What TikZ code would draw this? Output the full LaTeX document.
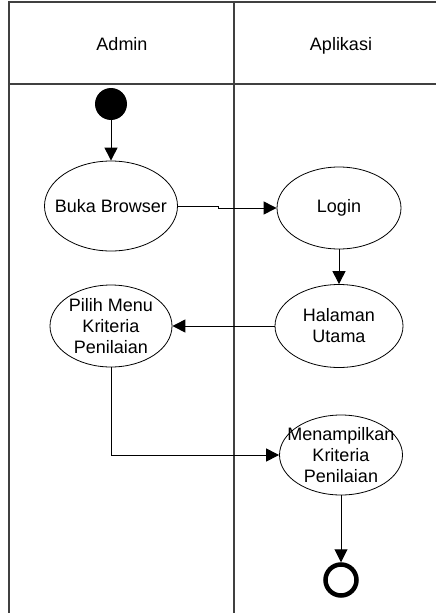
\documentclass[tikz,border=0pt]{standalone}
\usepackage{fontspec}
\setmainfont{Liberation Sans}
\usetikzlibrary{shapes.geometric,arrows.meta}
\tikzset{
  txt/.style={font=\fontsize{18}{21}\selectfont,align=center},
  act/.style={ellipse,draw,line width=0.8pt,inner sep=0pt},
  arr/.style={line width=1pt,-{Triangle[length=13pt,width=13pt]}},
  lane/.style={line width=1.2pt,black!75}
}
\begin{document}
\begin{tikzpicture}[x=1pt,y=-1pt]
 \useasboundingbox[fill=white](0,0) rectangle (436,613);
 \draw[lane](436,2)--(9,2)--(9,613);
 \draw[lane](9,84)--(436,84);
 \draw[lane](234,2)--(234,613);
 \node[txt,anchor=base] (admin) at (122,50) {Admin};
 \node[txt,anchor=base] (aplikasi) at (341,50) {Aplikasi};
 \node[circle,fill=black,minimum size=32pt,inner sep=0pt] (start) at (111,104) {};
 \node[act,minimum width=133pt,minimum height=90pt,label={[txt]center:Buka Browser}] (buka) at (111,206) {};
 \node[act,minimum width=124pt,minimum height=82pt,label={[txt]center:Login}] (login) at (339,208) {};
 \node[act,minimum width=128pt,minimum height=83pt,label={[txt]center:Halaman\\Utama}] (halaman) at (339,326) {};
 \node[act,minimum width=122pt,minimum height=82pt,label={[txt]center:Pilih Menu\\Kriteria\\Penilaian}] (pilih) at (111,326) {};
 \node[act,minimum width=123pt,minimum height=80pt,label={[txt]center:Menampilkan\\Kriteria\\Penilaian}] (tampil) at (341,455) {};
 \node[circle,draw,line width=4.5pt,minimum size=31pt,inner sep=0pt] (end) at (341,580) {};
 \draw[arr](start)--(buka);
 \draw[arr](buka.east)--++(41,0)|-(login.west);
 \draw[arr](login)--(halaman);
 \draw[arr](halaman)--(pilih);
 \draw[arr](pilih.south)|-(tampil.west);
 \draw[arr](tampil)--(end);
\end{tikzpicture}
\end{document}
